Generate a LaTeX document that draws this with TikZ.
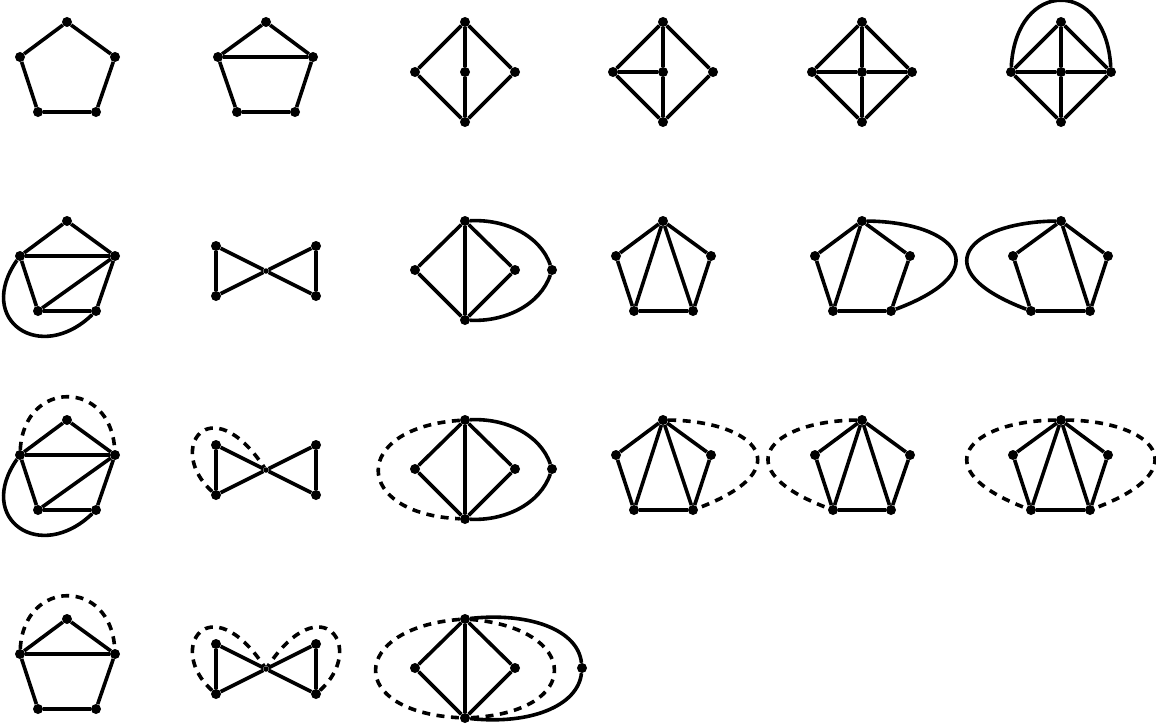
\documentclass[tikz,border=0pt]{standalone}
\begin{document}
\begin{tikzpicture}[x=1pt,y=-1pt,
  v/.style={circle,fill=black,inner sep=0pt,minimum size=10pt},
  cv/.style={circle,fill=black,inner sep=0pt,minimum size=5.5pt},
  ed/.style={line width=3.6pt,line join=round},
  dsh/.style={line width=3.6pt,dash pattern=on 8pt off 6.5pt}]
\useasboundingbox (0,0) rectangle (1156,725);

% ---------- Row 1 ----------
% G1
\node[v] (g1t) at (67,22) {}; \node[v] (g1l) at (20,57) {}; \node[v] (g1r) at (115,57) {};
\node[v] (g1bl) at (38,112) {}; \node[v] (g1br) at (96,112) {};
\draw[ed] (g1t) -- (g1l) -- (g1bl) -- (g1br) -- (g1r) -- (g1t);
% G2
\node[v] (g2t) at (266,22) {}; \node[v] (g2l) at (218,57) {}; \node[v] (g2r) at (313,57) {};
\node[v] (g2bl) at (237,112) {}; \node[v] (g2br) at (295,112) {};
\draw[ed] (g2t) -- (g2l) -- (g2bl) -- (g2br) -- (g2r) -- (g2t);
\draw[ed] (g2l) -- (g2r);
% G3
\node[v] (g3t) at (465,22) {}; \node[v] (g3l) at (415,72) {}; \node[v] (g3c) at (465,72) {};
\node[v] (g3r) at (515,72) {}; \node[v] (g3b) at (465,122) {};
\draw[ed] (g3t) -- (g3l) -- (g3b) -- (g3r) -- (g3t);
\draw[ed] (g3t) -- (g3c) -- (g3b);
% G4
\node[v] (g4t) at (663,22) {}; \node[v] (g4l) at (613,72) {}; \node[v] (g4c) at (663,72) {};
\node[v] (g4r) at (713,72) {}; \node[v] (g4b) at (663,122) {};
\draw[ed] (g4t) -- (g4l) -- (g4b) -- (g4r) -- (g4t);
\draw[ed] (g4t) -- (g4c) -- (g4b);
\draw[ed] (g4l) -- (g4c);
% G5
\node[v] (g5t) at (862,22) {}; \node[v] (g5l) at (812,72) {}; \node[v] (g5c) at (862,72) {};
\node[v] (g5r) at (912,72) {}; \node[v] (g5b) at (862,122) {};
\draw[ed] (g5t) -- (g5l) -- (g5b) -- (g5r) -- (g5t);
\draw[ed] (g5t) -- (g5c) -- (g5b);
\draw[ed] (g5l) -- (g5c) -- (g5r);
% G6
\node[v] (g6t) at (1061,22) {}; \node[v] (g6l) at (1011,72) {}; \node[v] (g6c) at (1061,72) {};
\node[v] (g6r) at (1111,72) {}; \node[v] (g6b) at (1061,122) {};
\draw[ed] (g6t) -- (g6l) -- (g6b) -- (g6r) -- (g6t);
\draw[ed] (g6t) -- (g6c) -- (g6b);
\draw[ed] (g6l) -- (g6c) -- (g6r);
\draw[ed] (g6l) .. controls +(5,-94) and +(-5,-94) .. (g6r);

% ---------- Row 2 ----------
% G7
\node[v] (g7t) at (67,221) {}; \node[v] (g7l) at (20,256) {}; \node[v] (g7r) at (115,256) {};
\node[v] (g7bl) at (38,311) {}; \node[v] (g7br) at (96,311) {};
\draw[ed] (g7t) -- (g7l) -- (g7bl) -- (g7br) -- (g7r) -- (g7t);
\draw[ed] (g7l) -- (g7r);
\draw[ed] (g7bl) -- (g7r);
\draw[ed] (g7l) .. controls +(-45,64) and +(-56,54) .. (g7br);
% G8
\node[v] (g8a) at (216,246) {}; \node[v] (g8b) at (316,246) {};
\node[v] (g8c) at (216,296) {}; \node[v] (g8d) at (316,296) {};
\node[cv] (g8o) at (266,271) {};
\draw[ed] (g8a) -- (g8c); \draw[ed] (g8b) -- (g8d);
\draw[ed] (g8a) -- (g8o) -- (g8d);
\draw[ed] (g8c) -- (g8o) -- (g8b);
% G9
\node[v] (g9t) at (465,221) {}; \node[v] (g9l) at (415,270) {}; \node[v] (g9i) at (515,270) {};
\node[v] (g9f) at (552,270) {}; \node[v] (g9b) at (465,320) {};
\draw[ed] (g9t) -- (g9l) -- (g9b);
\draw[ed] (g9t) -- (g9b);
\draw[ed] (g9t) -- (g9i) -- (g9b);
\draw[ed] (g9t) .. controls +(40,-2) and +(-12,-35) .. (g9f);
\draw[ed] (g9f) .. controls +(-12,35) and +(40,2) .. (g9b);
% G10
\node[v] (g10t) at (663,221) {}; \node[v] (g10l) at (616,256) {}; \node[v] (g10r) at (711,256) {};
\node[v] (g10bl) at (634,311) {}; \node[v] (g10br) at (693,311) {};
\draw[ed] (g10t) -- (g10l) -- (g10bl) -- (g10br) -- (g10r) -- (g10t);
\draw[ed] (g10t) -- (g10bl); \draw[ed] (g10t) -- (g10br);
% G11
\node[v] (g11t) at (862,221) {}; \node[v] (g11l) at (815,256) {}; \node[v] (g11r) at (910,256) {};
\node[v] (g11bl) at (833,311) {}; \node[v] (g11br) at (891,311) {};
\draw[ed] (g11t) -- (g11l) -- (g11bl) -- (g11br) -- (g11r) -- (g11t);
\draw[ed] (g11t) -- (g11bl);
\draw[ed] (g11t) .. controls +(93,1) and +(109,-41) .. (g11br);
% G12
\node[v] (g12t) at (1061,221) {}; \node[v] (g12l) at (1013,256) {}; \node[v] (g12r) at (1108,256) {};
\node[v] (g12bl) at (1031,311) {}; \node[v] (g12br) at (1090,311) {};
\draw[ed] (g12t) -- (g12l) -- (g12bl) -- (g12br) -- (g12r) -- (g12t);
\draw[ed] (g12t) -- (g12br);
\draw[ed] (g12t) .. controls +(-93,1) and +(-108,-41) .. (g12bl);

% ---------- Row 3 ----------
% G13
\node[v] (g13t) at (67,420) {}; \node[v] (g13l) at (20,455) {}; \node[v] (g13r) at (115,455) {};
\node[v] (g13bl) at (38,510) {}; \node[v] (g13br) at (96,510) {};
\draw[ed] (g13t) -- (g13l) -- (g13bl) -- (g13br) -- (g13r) -- (g13t);
\draw[ed] (g13l) -- (g13r);
\draw[ed] (g13bl) -- (g13r);
\draw[ed] (g13l) .. controls +(-45,64) and +(-56,54) .. (g13br);
\draw[dsh] (g13l) .. controls +(4,-76) and +(-4,-76) .. (g13r);
% G14
\node[v] (g14a) at (216,445) {}; \node[v] (g14b) at (316,445) {};
\node[v] (g14c) at (216,495) {}; \node[v] (g14d) at (316,495) {};
\node[cv] (g14o) at (266,470) {};
\draw[ed] (g14a) -- (g14c); \draw[ed] (g14b) -- (g14d);
\draw[ed] (g14a) -- (g14o) -- (g14d);
\draw[ed] (g14c) -- (g14o) -- (g14b);
\draw[dsh] (g14c) .. controls +(-51,-46) and +(-56,-84) .. (g14o);
% G15
\node[v] (g15t) at (465,420) {}; \node[v] (g15l) at (415,469) {}; \node[v] (g15i) at (515,469) {};
\node[v] (g15f) at (552,469) {}; \node[v] (g15b) at (465,519) {};
\draw[ed] (g15t) -- (g15l) -- (g15b);
\draw[ed] (g15t) -- (g15b);
\draw[ed] (g15t) -- (g15i) -- (g15b);
\draw[ed] (g15t) .. controls +(40,-2) and +(-12,-35) .. (g15f);
\draw[ed] (g15f) .. controls +(-12,35) and +(40,2) .. (g15b);
\draw[dsh] (g15t) .. controls +(-115,8) and +(-113,-5) .. (g15b);
% G16
\node[v] (g16t) at (663,420) {}; \node[v] (g16l) at (616,455) {}; \node[v] (g16r) at (711,455) {};
\node[v] (g16bl) at (634,510) {}; \node[v] (g16br) at (693,510) {};
\draw[ed] (g16t) -- (g16l) -- (g16bl) -- (g16br) -- (g16r) -- (g16t);
\draw[ed] (g16t) -- (g16bl); \draw[ed] (g16t) -- (g16br);
\draw[dsh] (g16t) .. controls +(93,1) and +(109,-41) .. (g16br);
% G17
\node[v] (g17t) at (862,420) {}; \node[v] (g17l) at (815,455) {}; \node[v] (g17r) at (910,455) {};
\node[v] (g17bl) at (833,510) {}; \node[v] (g17br) at (891,510) {};
\draw[ed] (g17t) -- (g17l) -- (g17bl) -- (g17br) -- (g17r) -- (g17t);
\draw[ed] (g17t) -- (g17bl); \draw[ed] (g17t) -- (g17br);
\draw[dsh] (g17t) .. controls +(-93,1) and +(-109,-41) .. (g17bl);
% G18
\node[v] (g18t) at (1061,420) {}; \node[v] (g18l) at (1013,455) {}; \node[v] (g18r) at (1108,455) {};
\node[v] (g18bl) at (1031,510) {}; \node[v] (g18br) at (1090,510) {};
\draw[ed] (g18t) -- (g18l) -- (g18bl) -- (g18br) -- (g18r) -- (g18t);
\draw[ed] (g18t) -- (g18bl); \draw[ed] (g18t) -- (g18br);
\draw[dsh] (g18t) .. controls +(-93,1) and +(-108,-41) .. (g18bl);
\draw[dsh] (g18t) .. controls +(93,1) and +(109,-41) .. (g18br);

% ---------- Row 4 ----------
% G19
\node[v] (g19t) at (67,619) {}; \node[v] (g19l) at (20,654) {}; \node[v] (g19r) at (115,654) {};
\node[v] (g19bl) at (38,709) {}; \node[v] (g19br) at (96,709) {};
\draw[ed] (g19t) -- (g19l) -- (g19bl) -- (g19br) -- (g19r) -- (g19t);
\draw[ed] (g19l) -- (g19r);
\draw[dsh] (g19l) .. controls +(4,-76) and +(-4,-76) .. (g19r);
% G20
\node[v] (g20a) at (216,644) {}; \node[v] (g20b) at (316,644) {};
\node[v] (g20c) at (216,694) {}; \node[v] (g20d) at (316,694) {};
\node[cv] (g20o) at (266,669) {};
\draw[ed] (g20a) -- (g20c); \draw[ed] (g20b) -- (g20d);
\draw[ed] (g20a) -- (g20o) -- (g20d);
\draw[ed] (g20c) -- (g20o) -- (g20b);
\draw[dsh] (g20c) .. controls +(-51,-46) and +(-56,-84) .. (g20o);
\draw[dsh] (g20d) .. controls +(51,-46) and +(56,-84) .. (g20o);
% G21
\node[v] (g21t) at (465,619) {}; \node[v] (g21l) at (415,668) {}; \node[v] (g21i) at (515,668) {};
\node[v] (g21f) at (582,668) {}; \node[v] (g21b) at (465,718) {};
\draw[ed] (g21t) -- (g21l) -- (g21b);
\draw[ed] (g21t) -- (g21b);
\draw[ed] (g21t) -- (g21i) -- (g21b);
\draw[ed] (g21t) .. controls +(65,-7) and +(-4,-38) .. (g21f);
\draw[ed] (g21f) .. controls +(-4,38) and +(65,7) .. (g21b);
\draw[dsh] (g21t) .. controls +(-115,9) and +(-120,-6) .. (g21b);
\draw[dsh] (g21t) .. controls +(115,9) and +(120,-6) .. (g21b);
\end{tikzpicture}
\end{document}
